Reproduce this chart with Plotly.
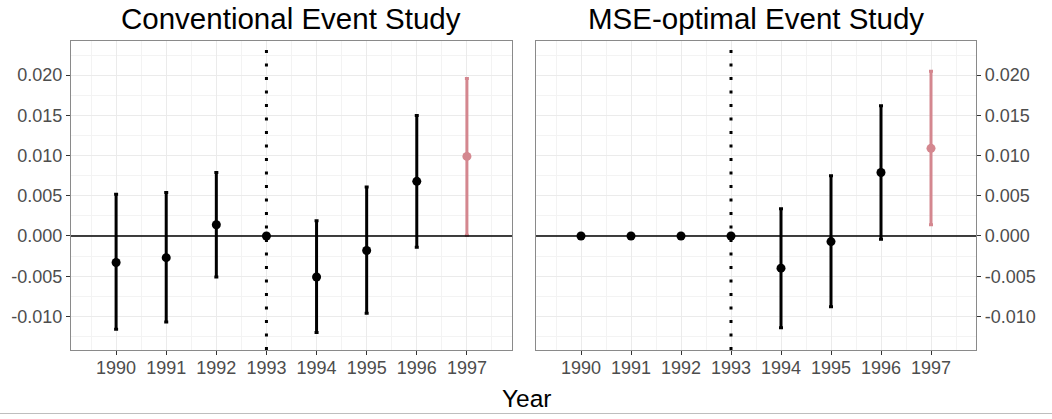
import plotly.graph_objects as go

years = [1990, 1991, 1992, 1993, 1994, 1995, 1996, 1997]
conv_est = [-0.0033, -0.0027, 0.0014, 0.0, -0.0051, -0.0018, 0.0068, 0.0099]
conv_lo = [-0.0116, -0.0107, -0.0051, 0.0, -0.0120, -0.0096, -0.0014, 0.0001]
conv_hi = [0.0052, 0.0054, 0.0079, 0.0, 0.0019, 0.0061, 0.0150, 0.0196]
mse_est = [0.0, 0.0, 0.0, 0.0, -0.0040, -0.0007, 0.0079, 0.0109]
mse_lo = [0.0, 0.0, 0.0, 0.0, -0.0114, -0.0088, -0.0004, 0.0014]
mse_hi = [0.0, 0.0, 0.0, 0.0, 0.0034, 0.0075, 0.0162, 0.0205]
highlight_year = 1997
event_year = 1993
titles = ["Conventional Event Study", "MSE-optimal Event Study"]
ytickvals = [-0.010, -0.005, 0.000, 0.005, 0.010, 0.015, 0.020]
yticktext = ["-0.010", "-0.005", "0.000", "0.005", "0.010", "0.015", "0.020"]
yminor = [-0.0125, -0.0075, -0.0025, 0.0025, 0.0075, 0.0125, 0.0175, 0.0225]
xminor = [1989.5 + i for i in range(9)]

W, H = 1052, 419
BLACK = "#000000"
PINK = "#D4878F"
FONT = "Liberation Sans, Arial, sans-serif"


def px(x):
    return x / W


def py(y):
    return 1 - y / H


fig = go.Figure()


def add_panel(est, lo, hi, xref, yref):
    for color, sel in [(BLACK, lambda y: y != highlight_year), (PINK, lambda y: y == highlight_year)]:
        idx = [i for i, y in enumerate(years) if sel(y)]
        xs = [years[i] for i in idx]
        ys = [est[i] for i in idx]
        up = [hi[i] - est[i] for i in idx]
        dn = [est[i] - lo[i] for i in idx]
        fig.add_trace(go.Scatter(
            x=xs, y=ys, mode="markers", xaxis=xref, yaxis=yref,
            marker=dict(color=color, size=9),
            error_y=dict(type="data", array=up, arrayminus=dn, color=color,
                         thickness=3, width=2, visible=True),
            showlegend=False, hoverinfo="skip"))


add_panel(conv_est, conv_lo, conv_hi, "x", "y")
add_panel(mse_est, mse_lo, mse_hi, "x2", "y2")

ydom = [py(350), py(41)]
xdom1 = [px(71), px(512)]
xdom2 = [px(536), px(976)]
xr = [1989.1, 1997.9]
yr = [-0.01418, 0.02425]

grid = "#EBEBEB"
common_x = dict(range=xr, tickvals=years, ticktext=[str(y) for y in years],
                showgrid=True, gridcolor=grid, gridwidth=1.1,
                minor=dict(tickvals=xminor, showgrid=True, gridcolor="#F3F3F3", gridwidth=0.6),
                ticks="outside", ticklen=4, tickcolor="#333333", tickwidth=1,
                ticklabelstandoff=-3,
                tickfont=dict(family=FONT, size=18, color="#4D4D4D"),
                showline=True, mirror=True, linecolor="#8A8A8A", linewidth=1.2,
                zeroline=False, fixedrange=True)
common_y = dict(range=yr, tickvals=ytickvals, ticktext=yticktext,
                showgrid=True, gridcolor=grid, gridwidth=1.1,
                minor=dict(tickvals=yminor, showgrid=True, gridcolor="#F3F3F3", gridwidth=0.6),
                ticks="outside", ticklen=4, tickcolor="#333333", tickwidth=1,
                tickfont=dict(family=FONT, size=18, color="#4D4D4D"),
                showline=True, mirror=True, linecolor="#8A8A8A", linewidth=1.2,
                zeroline=False, fixedrange=True, domain=ydom)

fig.update_layout(
    width=W, height=H,
    margin=dict(l=0, r=0, t=0, b=0),
    paper_bgcolor="white", plot_bgcolor="white",
    xaxis=dict(domain=xdom1, anchor="y", **common_x),
    yaxis=dict(anchor="x", side="left", **common_y),
    xaxis2=dict(domain=xdom2, anchor="y2", **common_x),
    yaxis2=dict(anchor="x2", side="right", **common_y),
    font=dict(family=FONT),
    hovermode=False,
)

for xa, ya in [("x", "y"), ("x2", "y2")]:
    fig.add_shape(type="line", xref=f"{xa} domain", yref=ya, x0=0, x1=1, y0=0, y1=0,
                  line=dict(color=BLACK, width=1.5), layer="above")
    fig.add_shape(type="line", xref=xa, yref=f"{ya} domain", x0=event_year, x1=event_year,
                  y0=0, y1=1, line=dict(color=BLACK, width=3, dash="3px,10.5px"), layer="above")

for t, dom in zip(titles, [xdom1, xdom2]):
    fig.add_annotation(text=t, x=(dom[0] + dom[1]) / 2, y=py(18), xref="paper", yref="paper",
                       xanchor="center", yanchor="middle", showarrow=False,
                       font=dict(family=FONT, size=29.5, color="#000000"))

fig.add_annotation(text="Year", x=px(527), y=py(398), xref="paper", yref="paper",
                   xanchor="center", yanchor="middle", showarrow=False,
                   font=dict(family=FONT, size=24.5, color="#000000"))

fig.add_shape(type="line", xref="paper", yref="paper", x0=0, x1=1, y0=py(413.5), y1=py(413.5),
              line=dict(color="#BEBEBE", width=1.2))

fig.write_html("out.html", config={"displayModeBar": False},
               post_script="document.body.style.margin='0';")
